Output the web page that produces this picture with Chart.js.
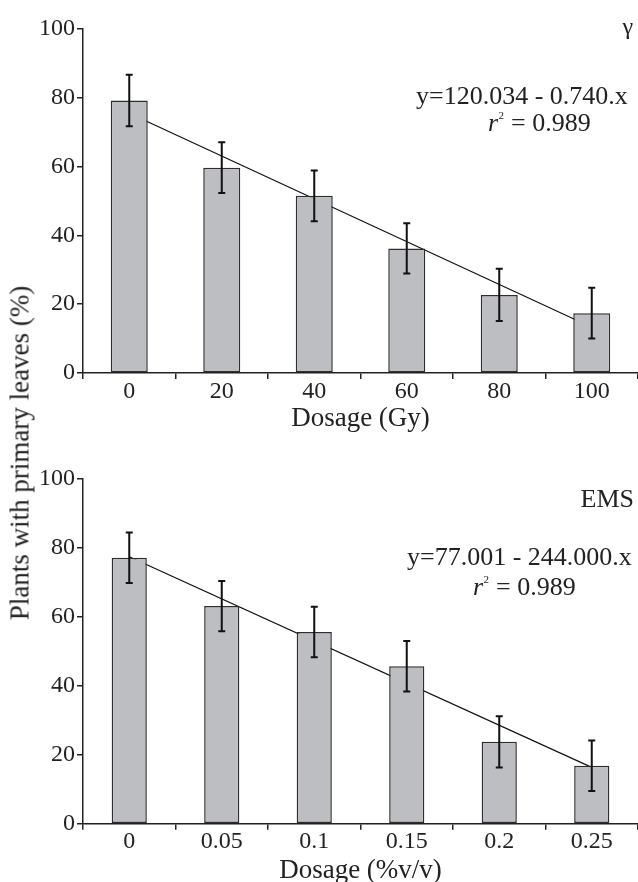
<!DOCTYPE html>
<html><head><meta charset="utf-8">
<script src="https://cdn.jsdelivr.net/npm/chart.js@4/dist/chart.umd.min.js"></script>
<style>
html,body{margin:0;padding:0;width:638px;height:882px;overflow:hidden;background:#fff;}
.wrap{position:absolute;left:0;width:638px;}
#w1{top:0;height:440px;}
#w2{top:440px;height:444px;}
canvas{display:block;}
#ytitle{position:absolute;left:20px;top:453px;transform:translate(-50%,-50%) rotate(-90deg);font-family:"Liberation Serif","Times New Roman",serif;font-size:27px;color:#222;white-space:nowrap;line-height:1;}
</style></head>
<body>
<div class="wrap" id="w1"><canvas id="c1" width="638" height="440"></canvas></div>
<div class="wrap" id="w2"><canvas id="c2" width="638" height="444"></canvas></div>
<div id="ytitle">Plants with primary leaves (%)</div>
<script>
// ---- data ----
const gammaLabels = ['0', '20', '40', '60', '80', '100'];
const gammaMeans  = [79.2, 59.7, 51.5, 36.2, 22.7, 17.4];
const gammaErr    = [7.5, 7.4, 7.4, 7.3, 7.6, 7.4];
const gammaFit    = [75.5, null, null, null, null, 13.3];

const emsLabels = ['0', '0.05', '0.1', '0.15', '0.2', '0.25'];
const emsMeans  = [77.0, 63.0, 55.5, 45.6, 23.7, 16.8];
const emsErr    = [7.3, 7.3, 7.3, 7.3, 7.4, 7.3];
const emsFit    = [77.3, null, null, null, null, 16.3];

const yTickStep = 20;
const yMin = 0, yMax = 100;

const FONT = '"Liberation Serif","Times New Roman",serif';
const INK = '#222';

const errorBars = {
  id: 'errorBars',
  afterDatasetsDraw(chart) {
    const errs = chart.options.plugins.errorBars.errs;
    const meta = chart.getDatasetMeta(0);
    const ds = chart.data.datasets[0].data;
    const ys = chart.scales.y;
    const ctx = chart.ctx;
    ctx.save();
    ctx.strokeStyle = '#111';
    ctx.lineWidth = 2;
    meta.data.forEach((el, i) => {
      const x = el.x;
      const t = ys.getPixelForValue(ds[i] + errs[i]);
      const b = ys.getPixelForValue(ds[i] - errs[i]);
      ctx.beginPath();
      ctx.moveTo(x, t); ctx.lineTo(x, b);
      ctx.moveTo(x - 3.5, t); ctx.lineTo(x + 3.5, t);
      ctx.moveTo(x - 3.5, b); ctx.lineTo(x + 3.5, b);
      ctx.stroke();
    });
    ctx.restore();
  }
};

const notes = {
  id: 'notes',
  afterDraw(chart) {
    const o = chart.options.plugins.notes;
    const ctx = chart.ctx;
    ctx.save();
    ctx.fillStyle = INK;
    ctx.textBaseline = 'alphabetic';
    ctx.font = o.tagSize + 'px ' + FONT;
    ctx.textAlign = 'right';
    ctx.fillText(o.tag, o.tagX, o.tagY);
    ctx.textAlign = 'left';
    ctx.font = '26px ' + FONT;
    ctx.fillText(o.eq, o.eqX, o.eqY);
    let x = o.rX;
    ctx.font = 'italic 26px ' + FONT;
    ctx.fillText('r', x, o.rY);
    const rw = ctx.measureText('r').width;
    ctx.font = '11px ' + FONT;
    ctx.fillText('2', x + rw + 0.5, o.rY - 12);
    const sw = ctx.measureText('2').width;
    ctx.font = '26px ' + FONT;
    ctx.fillText(' = ' + o.r2, x + rw + sw + 1, o.rY);
    ctx.restore();
  }
};

function makeChart(id, labels, means, errs, fit, xTitle, cfg) {
  return new Chart(document.getElementById(id), {
    data: {
      labels: labels,
      datasets: [
        {
          type: 'bar', data: means, order: 1,
          backgroundColor: '#bdbec2', borderColor: '#2e2e2e', borderWidth: 1.5,
          borderSkipped: false, barPercentage: cfg.barPct, categoryPercentage: 1.0
        },
        {
          type: 'line', data: fit, order: 2, spanGaps: true,
          borderColor: '#111', borderWidth: 1.2, pointRadius: 0, tension: 0, fill: false
        }
      ]
    },
    options: {
      responsive: false, animation: false, devicePixelRatio: 1,
      layout: { padding: { top: cfg.padTop, left: 0, right: 0, bottom: 0 } },
      plugins: {
        legend: { display: false }, tooltip: { enabled: false },
        errorBars: { errs: errs },
        notes: cfg.notes
      },
      scales: {
        x: {
          type: 'category', offset: true,
          grid: { display: true, offset: true, drawOnChartArea: false, drawTicks: true, tickLength: 6, color: INK, lineWidth: 1.5 },
          border: { display: true, color: INK, width: 1.5 },
          ticks: { font: { family: FONT, size: 24, lineHeight: 1 }, color: INK, padding: cfg.tickPad, maxRotation: 0, autoSkip: false },
          title: { display: true, text: xTitle, color: INK, font: { family: FONT, size: 27, lineHeight: 1 }, padding: { top: 0, bottom: cfg.titlePad } },
          afterFit(s) { s.height = cfg.xHeight; }
        },
        y: {
          min: yMin, max: yMax,
          grid: { drawOnChartArea: false, drawTicks: true, tickLength: 6, color: INK, lineWidth: 1.5 },
          border: { display: true, color: INK, width: 1.5 },
          ticks: { stepSize: yTickStep, font: { family: FONT, size: 24, lineHeight: 1 }, color: INK, padding: 2 },
          afterFit(s) { s.width = 83; }
        }
      }
    },
    plugins: [errorBars, notes]
  });
}

makeChart('c1', gammaLabels, gammaMeans, gammaErr, gammaFit, 'Dosage (Gy)', {
  barPct: 0.4, padTop: 29, xHeight: 67, tickPad: 1, titlePad: 8,
  notes: { tag: 'γ', tagSize: 24, tagX: 633, tagY: 34,
           eq: 'y=120.034 - 0.740.x', eqX: 416, eqY: 103.5,
           rX: 488, rY: 131, r2: '0.989' }
});
makeChart('c2', emsLabels, emsMeans, emsErr, emsFit, 'Dosage (%v/v)', {
  barPct: 0.38, padTop: 38.3, xHeight: 60.3, tickPad: 0, titlePad: 0,
  notes: { tag: 'EMS', tagSize: 26, tagX: 634, tagY: 66.7,
           eq: 'y=77.001 - 244.000.x', eqX: 407, eqY: 125,
           rX: 473, rY: 155, r2: '0.989' }
});
</script>
</body></html>
